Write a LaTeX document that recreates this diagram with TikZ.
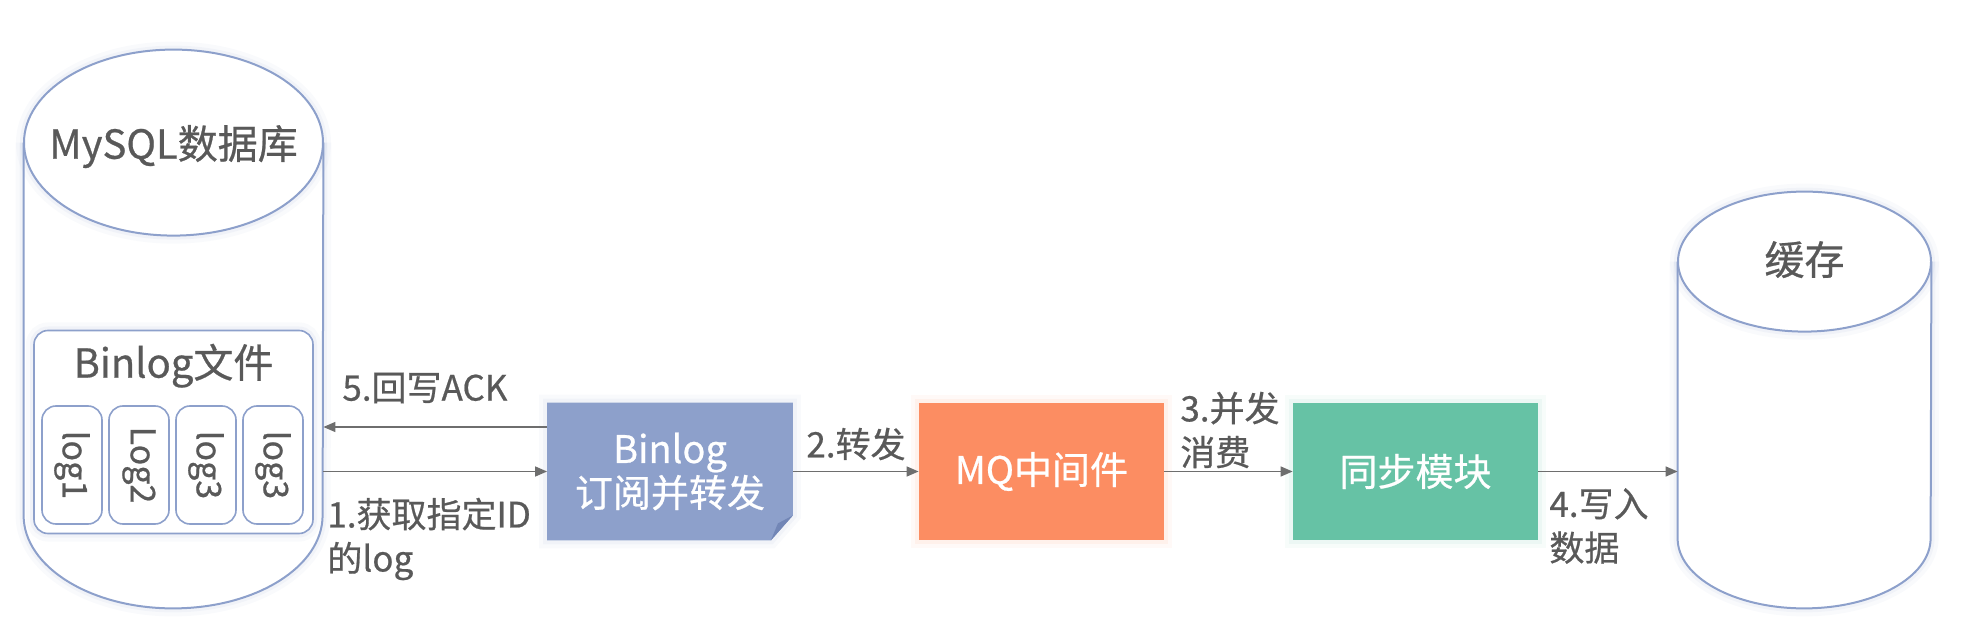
\documentclass[tikz,border=0pt]{standalone}
\usepackage{fontspec}
\setmainfont{Noto Sans CJK SC}[FakeBold=0.6]
\usepackage{xcolor}
\usetikzlibrary{arrows.meta, positioning, backgrounds}
\definecolor{setblue}{HTML}{8DA0CB}
\definecolor{setorange}{HTML}{FC8D62}
\definecolor{setgreen}{HTML}{66C2A5}
\definecolor{folddark}{HTML}{7286B6}
\definecolor{textgray}{HTML}{595959}
\definecolor{linegray}{HTML}{6E6E6E}

\begin{document}
\begin{tikzpicture}[
    x=0.5pt, y=0.5pt,
    glow/.style={preaction={draw=#1, line width=8pt, opacity=0.05}, preaction={draw=#1, line width=4pt, opacity=0.08}},
    dbbody/.style={rectangle, inner sep=0pt},
    dbline/.style={draw=setblue, line width=1pt, fill=white},
    dbtitle/.style={text=textgray, font=\fontsize{20}{24}\selectfont},
    filebox/.style={rectangle, rounded corners=7pt, draw=setblue, line width=0.8pt, fill=white, minimum width=139.5pt, minimum height=101.5pt, glow=setblue},
    logbox/.style={rectangle, rounded corners=7pt, draw=setblue, line width=0.8pt, fill=white, minimum width=59pt, minimum height=30pt, inner sep=0pt, rotate=-90, text=textgray, font=\fontsize{17}{20}\selectfont},
    procbox/.style={rectangle, minimum width=122.5pt, minimum height=68.5pt, text=white, align=center, font=\fontsize{19}{22}\selectfont},
    flow/.style={-{Triangle[length=6pt,width=5pt]}, draw=linegray, line width=0.75pt},
    note/.style={text=textgray, align=left, inner sep=0pt, font=\fontsize{17.5}{22}\selectfont},
]
\useasboundingbox (0,0) rectangle (1969,616);

% MySQL database
\node[dbbody, minimum width=149.5pt, minimum height=186pt] (mysql) at (173.5,287) {};
\draw[dbline, glow=setblue] (mysql.north west) -- (mysql.south west) arc[start angle=180, end angle=360, x radius=74.75pt, y radius=46.5pt] -- (mysql.north east);
\draw[dbline, glow=setblue] (mysql.north) ellipse [x radius=74.75pt, y radius=46.5pt];
\node[dbtitle] (mysqltitle) at ([yshift=-2pt]mysql.north) {MySQL数据库};

% Binlog file with its logs
\node[filebox] (file) at (173.5,184) {};
\node[dbtitle] (filetitle) at ([yshift=-18pt]file.north) {Binlog文件};
\node[logbox] (log1) at (72,151) {log1};
\node[logbox] (log2) at (139,151) {Log2};
\node[logbox] (log3) at (206,151) {log3};
\node[logbox] (log4) at (273,151) {log3};

% Cache
\node[dbbody, minimum width=126.5pt, minimum height=138pt] (cache) at (1804.5,216) {};
\draw[dbline, glow=setblue] (cache.north west) -- (cache.south west) arc[start angle=180, end angle=360, x radius=63.25pt, y radius=35pt] -- (cache.north east);
\draw[dbline, glow=setblue] (cache.north) ellipse [x radius=63.25pt, y radius=35pt];
\node[dbtitle] (cachetitle) at ([yshift=1pt]cache.north) {缓存};

% Processing steps
\node[procbox] (binlog) at (670,144.5) {Binlog\\订阅并转发};
\begin{scope}[on background layer]
\fill[setblue, glow=setblue] (binlog.north west) -- (binlog.north east) -- ([yshift=12.5pt]binlog.south east) -- ([xshift=-11pt]binlog.south east) -- (binlog.south west) -- cycle;
\fill[folddark] ([yshift=12.5pt]binlog.south east) -- ([xshift=-7.5pt,yshift=8.5pt]binlog.south east) -- ([xshift=-11pt]binlog.south east) -- cycle;
\end{scope}
\node[procbox, fill=setorange, glow=setorange] (mq) at (1041.5,144.5) {MQ中间件};
\node[procbox, fill=setgreen, glow=setgreen] (sync) at (1415.5,144.5) {同步模块};

% Connectors
\draw[flow] ([yshift=22.25pt]binlog.west) -- ([yshift=22.25pt]binlog.west -| mysql.east);
\draw[flow] (binlog.west -| mysql.east) -- (binlog.west);
\draw[flow] (binlog) -- (mq);
\draw[flow] (mq) -- (sync);
\draw[flow] (sync.east) -- (sync.east -| cache.west);

% Labels
\node[note, anchor=west] (ackl) at (342,228) {5.回写ACK};
\node[note, anchor=west] (fetchl) at (327,77) {1.获取指定ID\\的log};
\node[note] (fwdl) at (856,172) {2.转发};
\node[note, anchor=west] (consl) at (1180,186) {3.并发\\消费};
\node[note, anchor=west] (writel) at (1549,90) {4.写入\\数据};

\end{tikzpicture}
\end{document}
